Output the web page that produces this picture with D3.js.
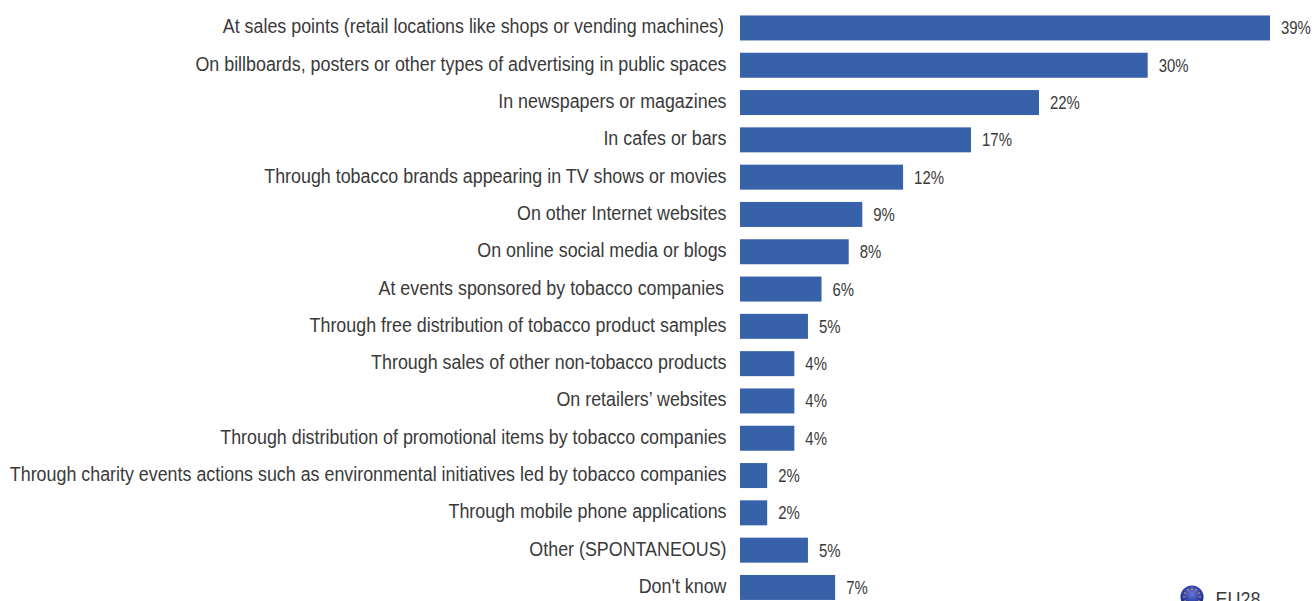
<!DOCTYPE html>
<html><head><meta charset="utf-8">
<style>html,body{margin:0;padding:0;background:#fff;overflow:hidden}svg{display:block}</style>
<script src="https://cdn.jsdelivr.net/npm/d3@7/dist/d3.min.js"></script></head><body>
<svg id="c" width="1312" height="601"></svg>
<script>
const categories=["At sales points (retail locations like shops or vending machines)","On billboards, posters or other types of advertising in public spaces","In newspapers or magazines","In cafes or bars","Through tobacco brands appearing in TV shows or movies","On other Internet websites","On online social media or blogs","At events sponsored by tobacco companies","Through free distribution of tobacco product samples","Through sales of other non-tobacco products","On retailers’ websites","Through distribution of promotional items by tobacco companies","Through charity events actions such as environmental initiatives led by tobacco companies","Through mobile phone applications","Other (SPONTANEOUS)","Don't know"];
const values=[39,30,22,17,12,9,8,6,5,4,4,4,2,2,5,7];
const legendLabel="EU28";
const svg=d3.select("#c");
const x=d3.scaleLinear().domain([0,39]).range([740,1270]);
const y=d3.scaleBand().domain(categories).range([9.3,606.1]).paddingInner(0.33).paddingOuter(0.165);
const font="'Liberation Sans',Arial,sans-serif";
const defs=svg.append("defs");
const g=defs.append("radialGradient").attr("id","globe").attr("cx","50%").attr("cy","35%").attr("r","65%");
g.append("stop").attr("offset","0%").attr("stop-color","#6a78d8");
g.append("stop").attr("offset","65%").attr("stop-color","#2a3a9e");
g.append("stop").attr("offset","100%").attr("stop-color","#1c2670");
svg.selectAll("rect.bar").data(values).join("rect").attr("class","bar")
 .attr("x",x(0)).attr("y",(d,i)=>y(categories[i])).attr("width",d=>x(d)-x(0)).attr("height",y.bandwidth()).attr("fill","#3761a8");
const sx=0.851;
svg.selectAll("text.cat").data(categories).join("text").attr("class","cat")
 .attr("transform",(d,i)=>`translate(${d.startsWith("At ")?724:726.5},${y(d)+y.bandwidth()/2+5.5}) scale(${sx},1)`)
 .attr("text-anchor","end").attr("font-family",font).attr("font-size",21).attr("fill","#3a3a3a").text(d=>d);
svg.selectAll("text.val").data(values).join("text").attr("class","val")
 .attr("transform",(d,i)=>`translate(${x(d)+11},${y(categories[i])+y.bandwidth()/2+6.5}) scale(0.83,1)`)
 .attr("font-family",font).attr("font-size",18).attr("fill","#3a3a3a").text(d=>d+"%");
const lg=svg.append("g").attr("transform","translate(1192,597)");
lg.append("circle").attr("r",11.5).attr("fill","url(#globe)");
lg.selectAll("circle.star").data(d3.range(12)).join("circle").attr("class","star")
 .attr("cx",d=>8*Math.cos(d*Math.PI/6)).attr("cy",d=>8*Math.sin(d*Math.PI/6)).attr("r",0.8).attr("fill","#d8c860");
svg.append("text").attr("transform","translate(1215.5,606) scale(0.9,1)").attr("font-family",font).attr("font-size",20).attr("fill","#3a3a3a").text(legendLabel);
</script></body></html>
